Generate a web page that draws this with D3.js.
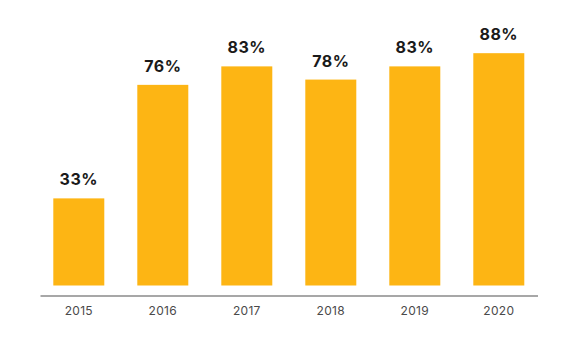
<!DOCTYPE html>
<html lang="en">
<head>
    <meta charset="UTF-8">
    <title>Yearly percentage</title>
    <script src="https://d3js.org/d3.v7.min.js"></script>
    <style>
        * { margin: 0; padding: 0; box-sizing: border-box; }
        body { background: #fff; font-family: Inter, "Noto Sans", Arial, sans-serif; }
        svg { display: block; }
    </style>
</head>
<body>
    <svg width="577" height="353"></svg>
    <script>
        const years = ["2015", "2016", "2017", "2018", "2019", "2020"];
        const values = [33, 76, 83, 78, 83, 88];

        const svg = d3.select("svg");

        const x = d3.scaleBand()
            .domain(years)
            .range([36.8, 540.8])
            .paddingInner(0.393)
            .paddingOuter(0.1965);

        const y = d3.scaleLinear()
            .domain([0, 100])
            .range([285.5, 21.5]);

        // bars
        svg.append("g")
            .selectAll("rect")
            .data(years)
            .join("rect")
            .attr("x", d => x(d))
            .attr("y", (d, i) => y(values[i]))
            .attr("width", x.bandwidth())
            .attr("height", (d, i) => y(0) - y(values[i]))
            .attr("fill", "#FDB514");

        // value labels
        svg.append("g")
            .selectAll("text")
            .data(years)
            .join("text")
            .attr("x", d => x(d) + x.bandwidth() / 2)
            .attr("y", (d, i) => y(values[i]) - 13)
            .attr("text-anchor", "middle")
            .attr("font-size", "16px")
            .attr("font-weight", 700)
            .attr("letter-spacing", "0.5px")
            .attr("fill", "#1a1a1a")
            .text((d, i) => values[i] + "%");

        // bottom axis
        const axis = svg.append("g")
            .attr("transform", "translate(0,296)")
            .call(d3.axisBottom(x).tickSize(0).tickPadding(10));
        axis.select(".domain")
            .attr("d", "M40.5,0H538")
            .attr("stroke", "#8a8a8a")
            .attr("stroke-width", 1.5);
        axis.selectAll("text")
            .attr("font-family", "Inter, 'Noto Sans', Arial, sans-serif")
            .attr("font-size", "12px")
            .attr("letter-spacing", "0.3px")
            .attr("fill", "#4a4a4a");
    </script>
</body>
</html>
